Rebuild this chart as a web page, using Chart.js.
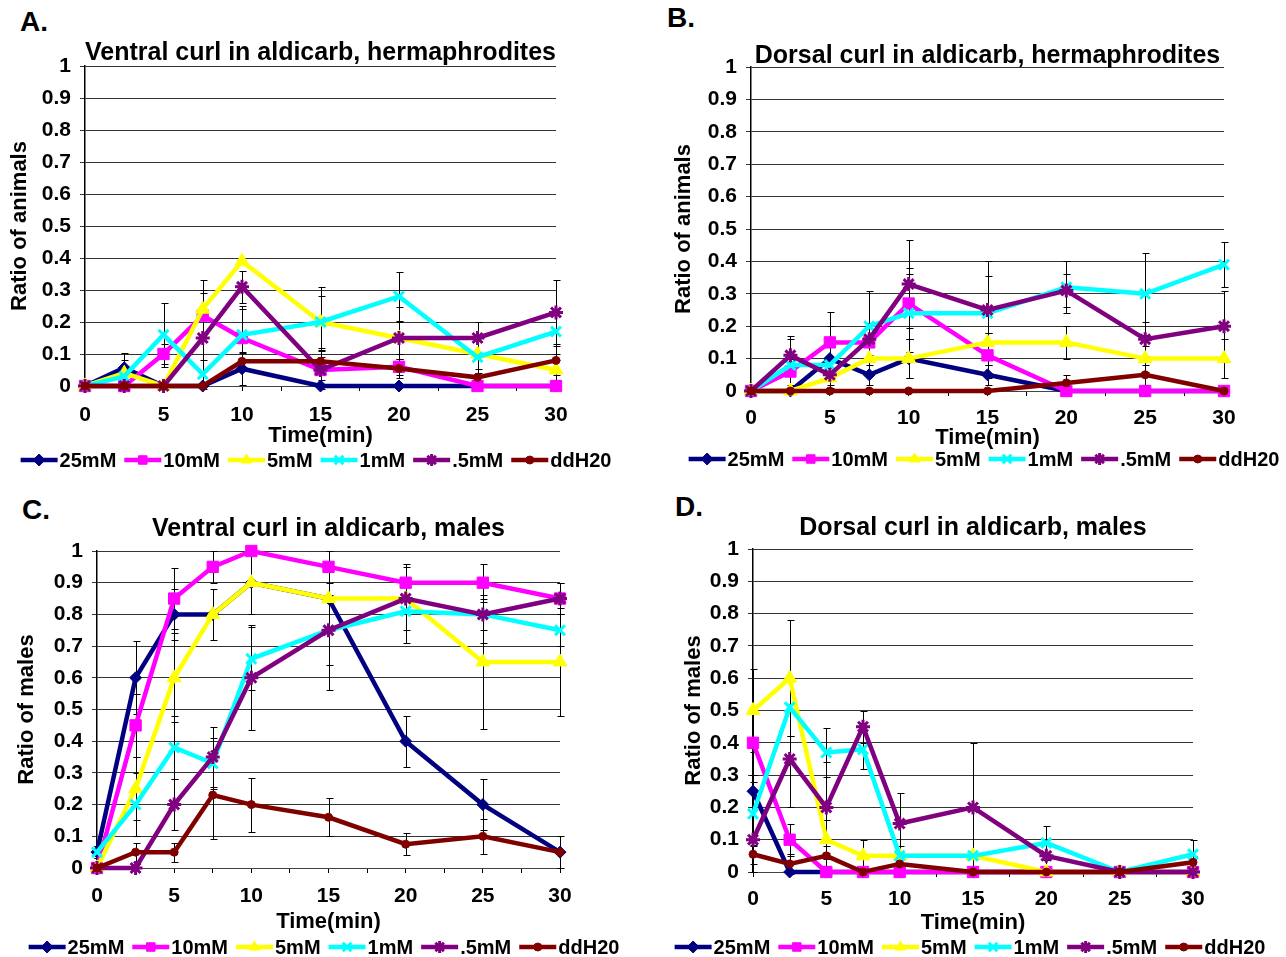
<!DOCTYPE html>
<html>
<head>
<meta charset="utf-8">
<title>Curling in aldicarb</title>
<script src="https://cdn.jsdelivr.net/npm/chart.js"></script>
<style>
  html, body { margin: 0; padding: 0; background: #fff; }
  body { width: 1286px; height: 957px; position: relative; overflow: hidden;
         font-family: "Liberation Sans", Arial, Helvetica, sans-serif; }
  .panel { position: absolute; }
  .tag { position: absolute; font-weight: bold; font-size: 28px; line-height: 28px; color: #000; }
</style>
</head>
<body>
<div class="tag" style="left:20px;top:8px">A.</div>
<div class="tag" style="left:667px;top:4px">B.</div>
<div class="tag" style="left:22px;top:496px">C.</div>
<div class="tag" style="left:675px;top:493px">D.</div>

<div class="panel" style="left:0;top:0"><canvas id="chartA"></canvas></div>
<div class="panel" style="left:643px;top:0"><canvas id="chartB"></canvas></div>
<div class="panel" style="left:0;top:480px"><canvas id="chartC"></canvas></div>
<div class="panel" style="left:643px;top:480px"><canvas id="chartD"></canvas></div>

<script>
const FONT = '"Liberation Sans", Arial, Helvetica, sans-serif';

// time points (min)
const times = [0, 2.5, 5, 7.5, 10, 15, 20, 25, 30];
const seriesNames = ['25mM', '10mM', '5mM', '1mM', '.5mM', 'ddH20'];
const seriesColors = ['#000080', '#ff00ff', '#ffff00', '#00ffff', '#800080', '#800000'];
const markers = ['rectRot', 'rect', 'triangle', 'crossRot', 'star', 'circle'];
const markerSize = [6, 8, 8, 7, 7, 4];
const markerLine = [1, 1, 1, 3, 3, 1];

// rows follow seriesNames order
const ventralHerm = [
  [0, 0.057, 0, 0, 0.054, 0, 0, 0, 0],
  [0, 0, 0.1, 0.22, 0.15, 0.05, 0.06, 0, 0],
  [0, 0.04, 0, 0.24, 0.39, 0.2, 0.15, 0.1, 0.05],
  [0, 0.03, 0.16, 0.037, 0.16, 0.2, 0.28, 0.09, 0.17],
  [0, 0, 0, 0.15, 0.31, 0.05, 0.15, 0.15, 0.23],
  [0, 0, 0, 0, 0.077, 0.077, 0.055, 0.027, 0.08]
];
const ventralHermErr = [
  [0, 0.047, 0, 0, 0.05, 0, 0, 0, 0],
  [0, 0, 0.03, 0.08, 0.1, 0.03, 0.025, 0, 0],
  [0, 0.04, 0, 0.09, 0, 0.11, 0.05, 0, 0.03],
  [0, 0, 0.1, 0.045, 0.08, 0.08, 0.076, 0.05, 0.07],
  [0, 0, 0, 0.14, 0.05, 0.06, 0.096, 0.05, 0.1],
  [0, 0, 0, 0, 0.03, 0.035, 0.03, 0.025, 0.045]
];

const dorsalHerm = [
  [0, 0, 0.1, 0.05, 0.1, 0.05, 0, 0, 0],
  [0, 0.06, 0.15, 0.15, 0.27, 0.11, 0, 0, 0],
  [0, 0, 0.04, 0.1, 0.1, 0.15, 0.15, 0.1, 0.1],
  [0, 0.08, 0.08, 0.2, 0.24, 0.24, 0.32, 0.3, 0.39],
  [0, 0.11, 0.05, 0.16, 0.33, 0.25, 0.31, 0.16, 0.2],
  [0, 0, 0, 0, 0, 0, 0.025, 0.05, 0]
];
const dorsalHermErr = [
  [0, 0, 0.1, 0.03, 0.06, 0.03, 0, 0, 0],
  [0, 0.04, 0.095, 0.05, 0.11, 0.07, 0, 0, 0],
  [0, 0, 0.03, 0.04, 0.06, 0.03, 0.05, 0.04, 0.06],
  [0, 0.08, 0.06, 0.11, 0.12, 0.16, 0.08, 0.126, 0.07],
  [0, 0.06, 0.05, 0.05, 0.135, 0.106, 0.05, 0.053, 0.11],
  [0, 0, 0, 0, 0, 0, 0.025, 0.03, 0]
];

const ventralMale = [
  [0.05, 0.6, 0.8, 0.8, 0.9, 0.85, 0.4, 0.2, 0.05],
  [0, 0.45, 0.85, 0.95, 1.0, 0.95, 0.9, 0.9, 0.85],
  [0, 0.25, 0.6, 0.8, 0.9, 0.85, 0.85, 0.65, 0.65],
  [0.05, 0.2, 0.38, 0.33, 0.66, 0.75, 0.81, 0.8, 0.75],
  [0, 0, 0.2, 0.35, 0.6, 0.75, 0.85, 0.8, 0.85],
  [0, 0.05, 0.05, 0.23, 0.2, 0.16, 0.075, 0.1, 0.05]
];
const ventralMaleErr = [
  [0.02, 0.115, 0.08, 0, 0.1, 0, 0.08, 0.08, 0],
  [0, 0.1, 0.095, 0.05, 0, 0.05, 0.06, 0.06, 0.05],
  [0, 0.1, 0.14, 0.08, 0, 0, 0, 0.21, 0.17],
  [0.02, 0.1, 0.1, 0.08, 0.1, 0.11, 0.1, 0.09, 0.05],
  [0, 0, 0.08, 0.095, 0.165, 0.19, 0.1, 0.05, 0.05],
  [0, 0.03, 0.03, 0.14, 0.085, 0.06, 0.035, 0.055, 0.05]
];

const dorsalMale = [
  [0.25, 0, 0, 0, 0, 0, 0, 0, 0],
  [0.4, 0.1, 0, 0, 0, 0, 0, 0, 0],
  [0.5, 0.6, 0.1, 0.05, 0.05, 0.05, 0, 0, 0],
  [0.18, 0.51, 0.37, 0.38, 0.05, 0.05, 0.09, 0, 0.055],
  [0.1, 0.35, 0.2, 0.45, 0.15, 0.2, 0.05, 0, 0],
  [0.055, 0.025, 0.05, 0, 0.025, 0, 0, 0, 0.03]
];
const dorsalMaleErr = [
  [0.05, 0, 0, 0, 0, 0, 0, 0, 0],
  [0.1, 0.05, 0, 0, 0, 0, 0, 0, 0],
  [0.13, 0.18, 0.06, 0.05, 0, 0, 0, 0, 0],
  [0.1, 0.09, 0.075, 0.06, 0.03, 0, 0.053, 0, 0.045],
  [0.1, 0.15, 0.14, 0.05, 0.095, 0.2, 0.05, 0, 0],
  [0.03, 0.03, 0.03, 0, 0, 0, 0, 0, 0.02]
];

// error bars drawn under the lines
const errorBars = {
  id: 'errorBars',
  beforeDatasetsDraw(chart) {
    const { ctx, scales: { x, y } } = chart;
    ctx.save();
    ctx.strokeStyle = '#000';
    ctx.lineWidth = 1;
    chart.data.datasets.forEach(ds => {
      if (!ds.errors) return;
      ds.data.forEach((p, i) => {
        const e = ds.errors[i];
        if (!e) return;
        const px = Math.round(x.getPixelForValue(p.x)) + 0.5;
        const top = Math.round(y.getPixelForValue(p.y + e)) + 0.5;
        const bot = Math.round(y.getPixelForValue(p.y - e)) + 0.5;
        ctx.beginPath();
        ctx.moveTo(px, top); ctx.lineTo(px, bot);
        ctx.moveTo(px - 3, top); ctx.lineTo(px + 4, top);
        ctx.moveTo(px - 3, bot); ctx.lineTo(px + 4, bot);
        ctx.stroke();
      });
    });
    ctx.restore();
  }
};

// legend entries as line + marker, like the spreadsheet legend
const lineLegend = {
  id: 'lineLegend',
  afterDraw(chart, args, opts) {
    const ctx = chart.ctx;
    ctx.save();
    ctx.font = `bold ${opts.size}px ${FONT}`;
    ctx.textBaseline = 'middle';
    const items = chart.data.datasets.map(ds => ({ ds, w: ctx.measureText(ds.label).width }));
    const total = items.reduce((s, it) => s + opts.line + opts.gap + it.w, 0) + opts.space * (items.length - 1);
    let x = opts.center - total / 2;
    items.forEach(({ ds, w }) => {
      ctx.strokeStyle = ds.borderColor;
      ctx.lineWidth = ds.borderWidth;
      ctx.beginPath();
      ctx.moveTo(x, opts.y);
      ctx.lineTo(x + opts.line, opts.y);
      ctx.stroke();
      ctx.fillStyle = ds.borderColor;
      ctx.lineWidth = ds.pointBorderWidth;
      if (Chart.helpers && Chart.helpers.drawPoint) {
        Chart.helpers.drawPoint(ctx, {
          pointStyle: ds.pointStyle, radius: Math.min(ds.pointRadius, 6), rotation: 0, borderWidth: ds.pointBorderWidth
        }, x + opts.line / 2, opts.y);
      }
      ctx.fillStyle = '#000';
      ctx.fillText(ds.label, x + opts.line + opts.gap, opts.y + 1);
      x += opts.line + opts.gap + w + opts.space;
    });
    ctx.restore();
  }
};

function makePanel(id, geo, title, yTitle, values, errors) {
  const canvas = document.getElementById(id);
  canvas.width = geo.w;
  canvas.height = geo.h;

  const datasets = seriesNames.map((name, s) => ({
    label: name,
    data: times.map((t, i) => ({ x: t, y: values[s][i] })),
    errors: errors[s],
    borderColor: seriesColors[s],
    backgroundColor: seriesColors[s],
    pointBackgroundColor: seriesColors[s],
    pointBorderColor: seriesColors[s],
    borderWidth: 4.5,
    pointStyle: markers[s],
    pointRadius: markerSize[s],
    pointBorderWidth: markerLine[s],
    tension: 0,
    fill: false,
    clip: false,
    order: seriesNames.length - s
  }));

  const tickFont = { family: FONT, size: 21, weight: 'bold', lineHeight: 1.2 };
  const axisFont = { family: FONT, size: 22, weight: 'bold', lineHeight: 1 };

  new Chart(canvas, {
    type: 'line',
    data: { datasets },
    options: {
      responsive: false,
      animation: false,
      events: [],
      layout: {
        padding: { left: 0, top: 0, right: geo.w - geo.right, bottom: geo.h - (geo.xTitleY + 11) }
      },
      plugins: {
        legend: { display: false },
        tooltip: { enabled: false },
        title: {
          display: true,
          text: title,
          fullSize: false,
          color: '#000',
          font: { family: FONT, size: 25, weight: 'bold', lineHeight: 1 },
          padding: { top: geo.titleY - 12.5, bottom: geo.top - geo.titleY - 12.5 }
        },
        lineLegend: { center: geo.legendCenter, y: geo.legendY, size: 20, line: 37, gap: 2, space: 8 }
      },
      scales: {
        x: {
          type: 'linear',
          min: 0,
          max: 30,
          afterFit: s => { s.height = geo.xTitleY + 11 - geo.bottom; },
          ticks: {
            stepSize: 2.5,
            autoSkip: false,
            maxRotation: 0,
            color: '#000',
            font: tickFont,
            padding: geo.tickY - geo.bottom - 5 - 12.6,
            callback: v => (v % 5 === 0 ? String(v) : '')
          },
          grid: { drawOnChartArea: false, tickLength: 5, color: '#000' },
          border: { color: '#444', width: 1 },
          title: { display: true, text: 'Time(min)', color: '#000', font: axisFont, padding: 0 }
        },
        y: {
          min: 0,
          max: 1,
          afterFit: s => { s.width = geo.left; },
          ticks: {
            stepSize: 0.1,
            autoSkip: false,
            color: '#000',
            font: tickFont,
            padding: 9,
            callback: v => String(Math.round(v * 10) / 10)
          },
          grid: { color: '#333', lineWidth: 1, tickLength: 5 },
          border: { color: '#000', width: 1.5 },
          title: {
            display: true, text: yTitle, color: '#000', font: axisFont,
            padding: { top: geo.yTitleX - 11, bottom: 0 }
          }
        }
      }
    },
    plugins: [errorBars, lineLegend]
  });
}

makePanel('chartA',
  { w: 643, h: 480, left: 85, right: 556, top: 66, bottom: 386, titleY: 53, tickY: 415, xTitleY: 436, yTitleX: 20, legendY: 460, legendCenter: 316 },
  'Ventral curl in aldicarb, hermaphrodites', 'Ratio of animals', ventralHerm, ventralHermErr);

makePanel('chartB',
  { w: 643, h: 480, left: 108, right: 581, top: 67, bottom: 391, titleY: 56, tickY: 418, xTitleY: 438, yTitleX: 41, legendY: 459, legendCenter: 341 },
  'Dorsal curl in aldicarb, hermaphrodites', 'Ratio of animals', dorsalHerm, dorsalHermErr);

makePanel('chartC',
  { w: 643, h: 477, left: 97, right: 560, top: 71, bottom: 388, titleY: 49, tickY: 416, xTitleY: 442, yTitleX: 27, legendY: 467, legendCenter: 324 },
  'Ventral curl in aldicarb, males', 'Ratio of males', ventralMale, ventralMaleErr);

makePanel('chartD',
  { w: 643, h: 477, left: 110, right: 550, top: 69, bottom: 392, titleY: 48, tickY: 419, xTitleY: 443, yTitleX: 51, legendY: 467, legendCenter: 327 },
  'Dorsal curl in aldicarb, males', 'Ratio of males', dorsalMale, dorsalMaleErr);
</script>
</body>
</html>
